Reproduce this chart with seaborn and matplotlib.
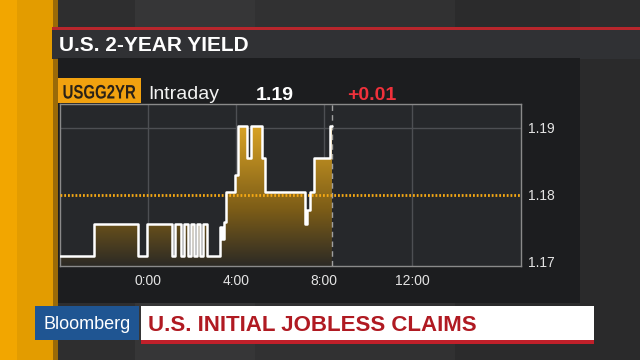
import matplotlib
matplotlib.use("Agg")
import matplotlib.pyplot as plt
import numpy as np
import pandas as pd
import seaborn as sns
from matplotlib.colors import LinearSegmentedColormap
from matplotlib.font_manager import FontProperties
from matplotlib.patches import PathPatch, Rectangle
from matplotlib.textpath import TextPath
from matplotlib.transforms import Affine2D

# intraday step series: hour of day (negative = previous evening) and yield
hours = [-4.0, -2.45, -0.44, -0.06, 1.08, 1.23, 1.52, 1.64, 1.83, 1.95,
         2.09, 2.24, 2.36, 2.52, 2.70, 3.27, 3.36, 3.45, 3.55, 3.95,
         4.10, 4.49, 4.67, 5.17, 5.32, 7.14, 7.24, 7.37, 7.55, 8.27, 8.36]
yields = [1.1709, 1.1757, 1.1709, 1.1757, 1.1709, 1.1757, 1.1709, 1.1757, 1.1709, 1.1757,
          1.1709, 1.1757, 1.1709, 1.1757, 1.1709, 1.1752, 1.1735, 1.1760, 1.1805, 1.1830,
          1.1903, 1.1855, 1.1903, 1.1855, 1.1805, 1.1757, 1.1778, 1.1805, 1.1855, 1.1903, 1.1903]

x_ticks = [0, 4, 8, 12]
x_tick_labels = ["0:00", "4:00", "8:00", "12:00"]
y_ticks = [1.17, 1.18, 1.19]
y_tick_labels = ["1.17", "1.18", "1.19"]
prev_close = 1.18
now_hour = 8.36
ticker = "USGG2YR"
last_value = "1.19"
net_change = "+0.01"
title = "U.S. 2-YEAR YIELD"
headline = "U.S. INITIAL JOBLESS CLAIMS"

df = pd.DataFrame({"hour": hours, "yield": yields})

sns.set_theme(style="dark")
plt.rcParams["font.family"] = ["Liberation Sans", "DejaVu Sans"]

fig = plt.figure(figsize=(6.4, 3.6), dpi=100)
fig.patch.set_facecolor("#29292a")

# full-figure axes in pixel coordinates for the TV graphics
bg = fig.add_axes([0, 0, 1, 1])
bg.set_xlim(0, 640)
bg.set_ylim(360, 0)
bg.axis("off")

# background bands
for x0, w, c in [(55, 80, "#2e2e2f"), (135, 120, "#363637"), (255, 200, "#313132"),
                 (455, 125, "#2b2b2c"), (580, 60, "#2d2d2e")]:
    bg.add_patch(Rectangle((x0, 0), w, 360, color=c, lw=0))
bg.add_patch(Rectangle((580, 58), 60, 302, color="#2a2a2b", lw=0))

# orange side stripe
bg.add_patch(Rectangle((0, 0), 17, 360, color="#f2a600", lw=0))
bg.add_patch(Rectangle((17, 0), 36, 360, color="#e39c00", lw=0))
bg.add_patch(Rectangle((53, 0), 5, 360, color="#9a6a08", lw=0))

# title band
bg.add_patch(Rectangle((52, 26.5), 588, 32, color="#303134", lw=0))
bg.add_patch(Rectangle((52, 26.5), 588, 3, color="#b8262c", lw=0))
bg.text(59, 51, title, color="white", fontsize=15, fontweight="bold",
        va="baseline", ha="left")

# chart panel
bg.add_patch(Rectangle((58, 58), 522, 245, color="#1c1d1f", lw=0))
bg.add_patch(Rectangle((58, 78), 83, 25, color="#f2a20f", lw=0))

# ticker in a condensed look: squeeze the glyph outline horizontally
tp = TextPath((0, 0), ticker, size=19.5,
              prop=FontProperties(family="Liberation Sans", weight="bold"))
ext = tp.get_extents()
sx = 72 / ext.width
squeeze = Affine2D().translate(-ext.x0, 0).scale(sx, -1).translate(63.5, 98.5)
bg.add_patch(PathPatch(tp, transform=squeeze + bg.transData,
                       facecolor="#2a2218", edgecolor="none"))

bg.text(148, 99, "Intraday", color="#f2f2f2", fontsize=14, va="baseline", ha="left")
bg.text(256, 100, last_value, color="white", fontsize=14, fontweight="bold",
        va="baseline", ha="left")
bg.text(347, 100, net_change, color="#f0313b", fontsize=14, fontweight="bold",
        va="baseline", ha="left")

# lower third
bg.add_patch(Rectangle((35, 306), 104, 34, color="#1f5592", lw=0))
bg.text(87, 329, "Bloomberg", color="white", fontsize=13, va="baseline", ha="center")
bg.add_patch(Rectangle((141, 306), 453, 35, color="white", lw=0))
bg.add_patch(Rectangle((141, 340), 453, 4, color="#c0202a", lw=0))
bg.text(148, 331, headline, color="#b01a22", fontsize=16, fontweight="bold",
        va="baseline", ha="left")

# the chart itself
ax = fig.add_axes([60 / 640, 1 - 266 / 360, 461 / 640, 162 / 360])
ax.set_facecolor("#26282b")
y_lo, y_hi = 1.1694, 1.19358
x_lo, x_hi = -4.0, 16.95

poly = ax.fill_between(df["hour"], y_lo, df["yield"], step="post",
                       facecolor="none", edgecolor="none")
gold = LinearSegmentedColormap.from_list(
    "gold", [(0.0, "#2c2a25"), (0.4, "#7d5d17"), (1.0, "#dca526")])
grad = np.linspace(0, 1, 256).reshape(-1, 1)
im = ax.imshow(grad, extent=[x_lo, x_hi, y_lo, 1.1906], origin="lower",
               aspect="auto", cmap=gold, zorder=2)
im.set_clip_path(poly.get_paths()[0], transform=ax.transData)

for xt in x_ticks:
    ax.axvline(xt, color="#4d4f53", lw=1, zorder=1)
ax.axhline(y_ticks[-1], color="#4d4f53", lw=1, zorder=1)

ax.axvline(now_hour, color="#a0a0a0", lw=1, ls=(0, (4, 3)), zorder=3)
ax.axhline(prev_close, color="#f5a814", lw=2, ls=(0, (0.65, 0.7)), zorder=4)

sns.lineplot(data=df, x="hour", y="yield", drawstyle="steps-post", color="white",
             lw=1.8, estimator=None, ax=ax, zorder=5)

ax.set_xlim(x_lo, x_hi)
ax.set_ylim(y_lo, y_hi)
ax.set_xticks(x_ticks)
ax.set_xticklabels(x_tick_labels)
ax.set_yticks(y_ticks)
ax.set_yticklabels(y_tick_labels)
ax.yaxis.tick_right()
ax.tick_params(axis="x", length=0, pad=6, labelsize=10, colors="#e4e4e4")
ax.tick_params(axis="y", length=0, pad=5, labelsize=10, colors="#e4e4e4")
ax.set_xlabel("")
ax.set_ylabel("")
ax.grid(False)
for s in ax.spines.values():
    s.set_visible(True)
    s.set_color("#8a8a8a")
    s.set_linewidth(1)

fig.savefig("out.png", dpi=100, facecolor=fig.get_facecolor())
